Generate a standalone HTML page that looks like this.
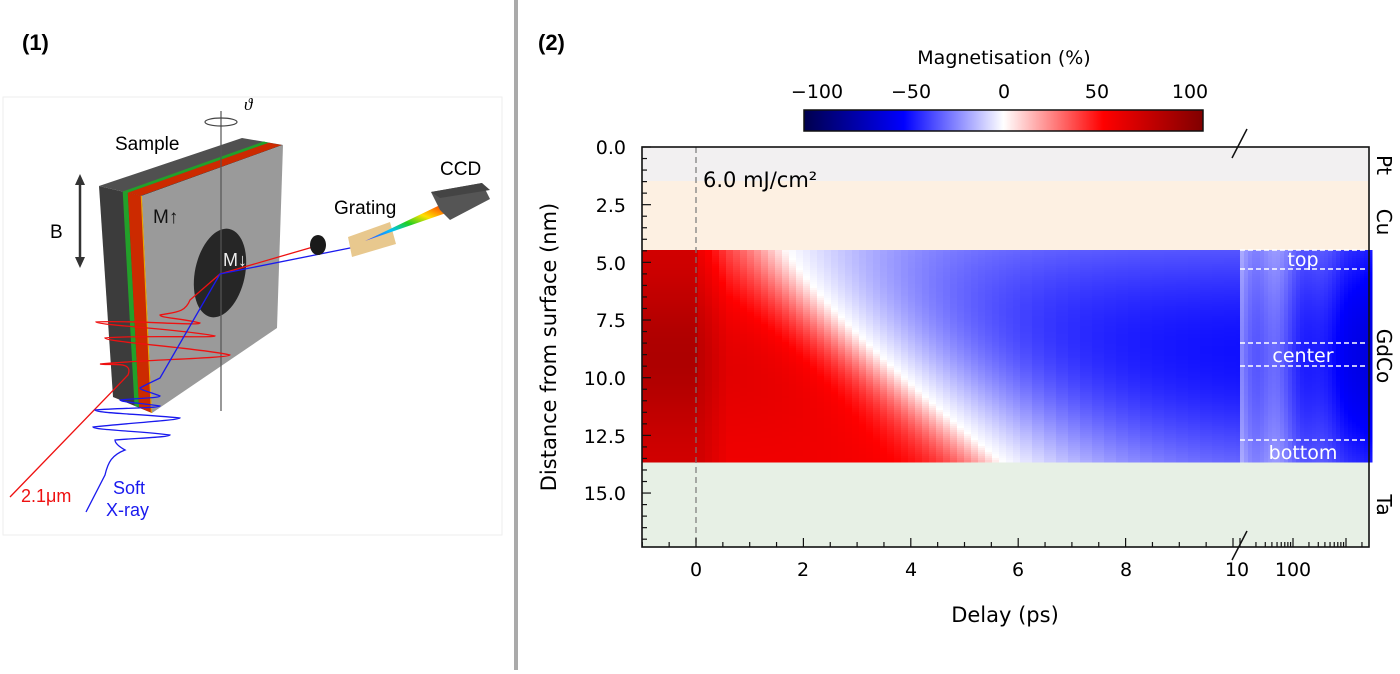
<!DOCTYPE html>
<html><head><meta charset="utf-8"><style>
html,body{margin:0;padding:0;background:#fff;}
body{width:1400px;height:670px;overflow:hidden;position:relative;font-family:"DejaVu Sans","Liberation Sans",sans-serif;}
</style></head><body>
<svg id="s" width="1400" height="670" viewBox="0 0 1400 670" xmlns="http://www.w3.org/2000/svg">
<defs>
<linearGradient id="cb" x1="0" x2="1" y1="0" y2="0">
<stop offset="0" stop-color="#00004d"/><stop offset="0.25" stop-color="#0000ff"/><stop offset="0.5" stop-color="#ffffff"/><stop offset="0.75" stop-color="#ff0000"/><stop offset="1" stop-color="#800000"/>
</linearGradient>
<linearGradient id="rb" x1="0" x2="1" y1="1" y2="0">
<stop offset="0" stop-color="#4040ff"/><stop offset="0.3" stop-color="#00c0ff"/><stop offset="0.5" stop-color="#20d020"/><stop offset="0.7" stop-color="#ffe000"/><stop offset="1" stop-color="#ff2000"/>
</linearGradient>
</defs>
<rect x="514" y="0" width="4" height="670" fill="#aaaaaa"/>
<text x="22" y="50" font-family="Liberation Sans, sans-serif" font-weight="bold" font-size="22">(1)</text>
<text x="538" y="50" font-family="Liberation Sans, sans-serif" font-weight="bold" font-size="22">(2)</text>

<rect x="3" y="97" width="499" height="438" fill="#fff" stroke="#eeeeee"/>
<g font-family="Liberation Sans, sans-serif">
<polygon points="99,186 142,196 152,413 113,397" fill="#3c3c3c"/>
<polygon points="99,186 242,138 283,145 142,196" fill="#505050"/>
<polygon points="122.7,191.5 127.8,192.7 139.1,407.7 134.5,405.8" fill="#22a02a"/>
<polygon points="127.8,192.7 140.7,195.7 150.8,412.5 139.1,407.7" fill="#cc2a00"/>
<polygon points="140.7,195.7 142,196 152,413 150.8,412.5" fill="#f0a000"/>
<polygon points="122.7,191.5 263.7,141.5 268.8,142.7 127.8,192.7" fill="#22a02a"/>
<polygon points="127.8,192.7 268.8,142.7 281.7,145 140.7,195.7" fill="#cc2a00"/>
<polygon points="142,196 283,145 277,328 152,413" fill="#9a9a9a"/>
<ellipse cx="220" cy="273" rx="25" ry="45" transform="rotate(12 220 273)" fill="#262626"/>
<line x1="221" y1="111" x2="221" y2="411" stroke="#555" stroke-width="1.2"/>
<ellipse cx="221" cy="122" rx="16" ry="4" fill="none" stroke="#444" stroke-width="1.2"/>
<text x="244" y="110" font-size="17" font-style="italic" font-family="Liberation Serif, serif">ϑ</text>
<text x="115" y="150" font-size="19">Sample</text>
<text x="50" y="238" font-size="19">B</text>
<line x1="80" y1="182" x2="80" y2="260" stroke="#333" stroke-width="2.5"/>
<polygon points="80,174 75,185 85,185" fill="#333"/><polygon points="80,268 75,257 85,257" fill="#333"/>
<text x="153" y="223" font-size="19" fill="#111">M↑</text>
<text x="223" y="266" font-size="18" fill="#eee">M↓</text>
<path d="M10,497 L128,375 C134,360 110,366 100,364 C140,360 230,358 230,355 C200,348 105,342 105,338 C130,335 215,338 215,336 C190,330 96,325 96,322 C130,320 200,326 200,323 C180,318 160,318 160,315 C175,312 185,313 190,300 L220,274 L313,247" fill="none" stroke="#ee1111" stroke-width="1.3"/>
<path d="M86,512 L105,475 C108,462 112,455 125,450 C118,446 115,443 115,440 C140,438 170,437 170,435 C140,431 93,430 93,427 C130,423 180,420 180,418 C140,414 95,413 95,410 C120,408 160,408 160,406 C140,403 120,402 120,400 C140,398 160,398 160,396 C150,392 140,390 140,388 C145,385 150,383 160,378 L220,274 L365,245" fill="none" stroke="#1a1aee" stroke-width="1.3"/>
<ellipse cx="318" cy="245" rx="8" ry="10" fill="#1a1a1a"/>
<polygon points="348,237 390,222 396,244 352,257" fill="#e8c88e"/>
<polygon points="365,241 438,206 452,211" fill="url(#rb)"/>
<polygon points="431,192 482,183 490,199 450,220 440,210" fill="#555"/>
<polygon points="431,192 482,183 490,190 440,198" fill="#444"/>
<text x="334" y="214" font-size="19">Grating</text>
<text x="440" y="175" font-size="19">CCD</text>
<text x="21" y="502" font-size="18" fill="#ee1111">2.1μm</text>
<text x="113" y="494" font-size="18" fill="#1a1aee">Soft</text>
<text x="106" y="516" font-size="18" fill="#1a1aee">X-ray</text>
</g>

<text x="1004" y="64" font-size="19" text-anchor="middle">Magnetisation (%)</text>
<rect x="804" y="110" width="399" height="21" fill="url(#cb)" stroke="#111" stroke-width="1.5"/>
<g font-size="19" text-anchor="middle">
<text x="817" y="98">−100</text><text x="911" y="98">−50</text><text x="1004" y="98">0</text><text x="1097" y="98">50</text><text x="1190" y="98">100</text>
</g>
<rect x="642" y="147" width="727" height="34" fill="#f2f0f1"/>
<rect x="642" y="181" width="727" height="69" fill="#fdf0e2"/>
<rect x="642" y="462" width="727" height="85" fill="#e7f0e5"/>
<g id="hm"></g>
<line x1="696" y1="147" x2="696" y2="547" stroke="#777" stroke-width="1.2" stroke-dasharray="6,4"/>
<g stroke="#fff" stroke-width="1.5" stroke-dasharray="5,3">
<line x1="1240" y1="250" x2="1366" y2="250"/><line x1="1240" y1="269" x2="1366" y2="269"/>
<line x1="1240" y1="343" x2="1366" y2="343"/><line x1="1240" y1="366" x2="1366" y2="366"/>
<line x1="1240" y1="440" x2="1366" y2="440"/>
</g>
<g fill="#fff" font-size="19" text-anchor="middle">
<text x="1303" y="266">top</text><text x="1303" y="362">center</text><text x="1303" y="459">bottom</text>
</g>
<text x="703" y="187" font-size="21">6.0 mJ/cm²</text>
<rect x="642" y="147" width="727" height="400" fill="none" stroke="#111" stroke-width="1.6"/>
<g id="ticks" stroke="#111" stroke-width="1.2"></g>
<g stroke="#111" stroke-width="1.5"><line x1="1232" y1="158" x2="1247" y2="129"/><line x1="1232" y1="560" x2="1247" y2="531"/></g>
<g font-size="19" text-anchor="end">
<text x="626" y="154">0.0</text><text x="626" y="212">2.5</text><text x="626" y="270">5.0</text><text x="626" y="327">7.5</text><text x="626" y="385">10.0</text><text x="626" y="443">12.5</text><text x="626" y="500">15.0</text>
</g>
<g font-size="19" text-anchor="middle">
<text x="696" y="576">0</text><text x="803" y="576">2</text><text x="911" y="576">4</text><text x="1018" y="576">6</text><text x="1126" y="576">8</text><text x="1237" y="576">10</text><text x="1293" y="576">100</text>
</g>
<text x="1005" y="622" font-size="21" text-anchor="middle">Delay (ps)</text>
<text transform="translate(556,347) rotate(-90)" font-size="21" text-anchor="middle">Distance from surface (nm)</text>
<g font-size="20" text-anchor="middle">
<text transform="translate(1377,165) rotate(90)">Pt</text>
<text transform="translate(1377,222) rotate(90)">Cu</text>
<text transform="translate(1377,356) rotate(90)">GdCo</text>
<text transform="translate(1377,505) rotate(90)">Ta</text>
</g>
</svg>
<script>
(function(){
var NS="http://www.w3.org/2000/svg";
function col(m){m=Math.max(-100,Math.min(100,m))/100;var r,g,b;
 if(m<-0.5){var f=(m+1)/0.5;r=0;g=0;b=0.3+0.7*f;}
 else if(m<0){var f=(m+0.5)/0.5;r=f;g=f;b=1;}
 else if(m<0.5){var f=m/0.5;r=1;g=1-f;b=1-f;}
 else {var f=(m-0.5)/0.5;r=1-0.5*f;g=0;b=0;}
 return "rgb("+Math.round(r*255)+","+Math.round(g*255)+","+Math.round(b*255)+")";}
function M(t,d){
 if(t<0) return 66+16*Math.exp(-Math.pow((d-0.5)/0.35,2));
 var tc=1.7+4.0*Math.pow(d,1.2), s=tc-t;
 var A=48*(0.7+0.3*Math.sin(Math.PI*d));
 var R=55+8*Math.exp(-Math.pow((d-0.5)/0.35,2));
 if(s>0) return R*Math.tanh(s/1.4)*(t<0.6?(1+0.25*(0.6-t)/0.6):1);
 return -A*Math.tanh(-s/3);
}
var g=document.getElementById("hm");
var y0=250,y1=462,x0=642,xb=1240,x1=1369,px=53.7;
var xs=[];var x=x0;
while(x<xb){var t=(x-696)/px;var w=t<0?8:(t<6?7:12);xs.push([x,Math.min(w,xb-x)]);x+=w;}
var frag=document.createDocumentFragment();
for(var i=0;i<xs.length;i++){
 var xx=xs[i][0],w=xs[i][1],t=(xx+w/2-696)/px;
 for(var y=y0;y<y1;y+=2){var d=(y+1-y0)/(y1-y0);
  var r=document.createElementNS(NS,"rect");r.setAttribute("x",xx);r.setAttribute("y",y);r.setAttribute("width",w+0.5);r.setAttribute("height",2.5);r.setAttribute("fill",col(M(t,d)));frag.appendChild(r);}
}
for(x=xb;x<x1;x+=4){var f=(x-xb)/(x1-xb);var n=(Math.sin(x*1.7)*0.5+0.5)*12*(1-f);
 for(var y=y0;y<y1;y+=2){var d=(y+1-y0)/(y1-y0);
  var m=-(30+30*f)*(0.75+0.25*Math.sin(Math.PI*d))+n;
  var r=document.createElementNS(NS,"rect");r.setAttribute("x",x);r.setAttribute("y",y);r.setAttribute("width",4.5);r.setAttribute("height",2.5);r.setAttribute("fill",col(m));frag.appendChild(r);}}
g.appendChild(frag);
var tk=document.getElementById("ticks");var s="";
for(var v=0;v<=17.3;v+=0.5){var yy=147+v*23.07;var L=(Math.abs(v/2.5-Math.round(v/2.5))<1e-6)?9:5;s+='<line x1="642" y1="'+yy+'" x2="'+(642+L)+'" y2="'+yy+'"/>';}
for(var t=-1;t<=10;t+=0.5){var xx=696+t*px;if(xx>1238)break;var L=(Math.abs(t/2-Math.round(t/2))<1e-6)?9:5;s+='<line x1="'+xx+'" y1="547" x2="'+xx+'" y2="'+(547-L)+'"/>';}
for(var e=1;e<=3;e++){for(var k=1;k<10;k++){var xx=1240+(e-1+Math.log10(k))*53;if(xx>1368)break;var L=k==1?9:5;s+='<line x1="'+xx+'" y1="547" x2="'+xx+'" y2="'+(547-L)+'"/>';}}
tk.innerHTML=s;
})();
</script>
</body></html>
